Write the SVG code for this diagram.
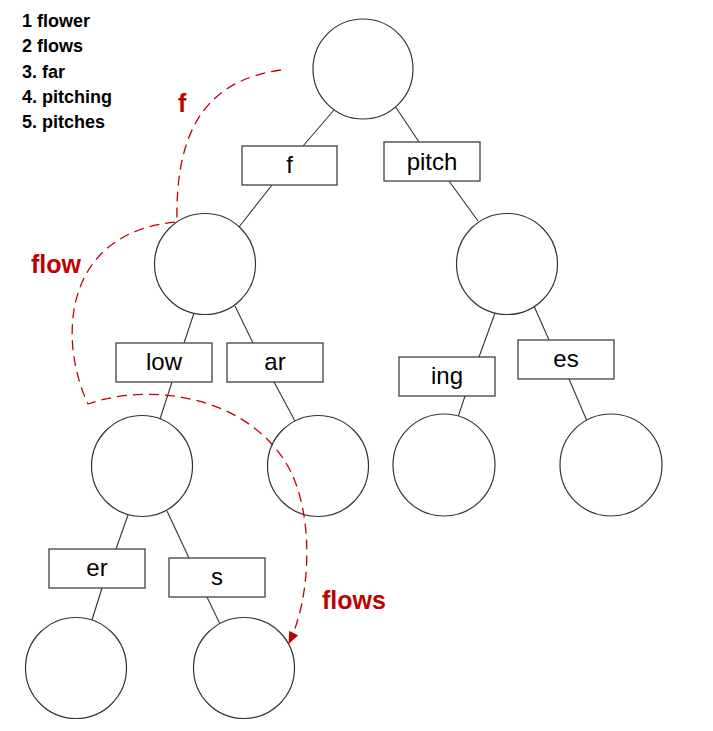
<svg xmlns="http://www.w3.org/2000/svg" width="713" height="731" viewBox="0 0 713 731">
<defs>
<style>
.n{fill:#fff;stroke:#333;stroke-width:1.2}
.b{fill:#fff;stroke:#404040;stroke-width:1.3}
.e{stroke:#333;stroke-width:1.1;fill:none}
.t{font-family:"Liberation Sans",Arial,sans-serif;font-size:24px;fill:#000;text-anchor:middle}
.lg{font-family:"Liberation Sans",Arial,sans-serif;font-size:18px;font-weight:bold;fill:#000}
.r{font-family:"Liberation Sans",Arial,sans-serif;font-size:25px;font-weight:bold;fill:#C00000}
.d{fill:none;stroke:#C00000;stroke-width:1.3;stroke-dasharray:10 6}
</style>
<marker id="ah" viewBox="0 0 12 10" refX="11" refY="5" markerWidth="12" markerHeight="10" markerUnits="userSpaceOnUse" orient="auto">
<path d="M0,0 L12,5 L0,10 z" fill="#C00000"/>
</marker>
</defs>
<rect width="713" height="731" fill="#fff"/>
<g id="legend">
<text class="lg" x="22" y="27">1 flower</text>
<text class="lg" x="22" y="52">2 flows</text>
<text class="lg" x="22" y="78">3. far</text>
<text class="lg" x="22" y="103">4. pitching</text>
<text class="lg" x="22" y="128">5. pitches</text>
</g>
<g id="connectors">
<line class="e" x1="334" y1="110" x2="303" y2="146"/>
<line class="e" x1="395" y1="106" x2="419" y2="142"/>
<line class="e" x1="272" y1="185" x2="239" y2="227"/>
<line class="e" x1="449" y1="181" x2="478" y2="221"/>
<line class="e" x1="194" y1="313" x2="184" y2="343"/>
<line class="e" x1="235" y1="306" x2="253" y2="343"/>
<line class="e" x1="495" y1="313" x2="479" y2="357"/>
<line class="e" x1="534" y1="306" x2="549" y2="340"/>
<line class="e" x1="172" y1="382" x2="160" y2="419"/>
<line class="e" x1="274" y1="382" x2="295" y2="421"/>
<line class="e" x1="465" y1="396" x2="458" y2="417"/>
<line class="e" x1="569" y1="379" x2="587" y2="421"/>
<line class="e" x1="128" y1="515" x2="116" y2="549"/>
<line class="e" x1="167" y1="511" x2="189" y2="558"/>
<line class="e" x1="102" y1="588" x2="92" y2="620"/>
<line class="e" x1="207" y1="597" x2="220" y2="624"/>
</g>
<g id="root"><circle class="n" cx="363" cy="69" r="50"/></g>
<g id="box-f"><rect class="b" x="242" y="146" width="95" height="39"/><text class="t" x="289.5" y="173">f</text></g>
<g id="box-pitch"><rect class="b" x="384" y="142" width="96" height="39"/><text class="t" x="432" y="170">pitch</text></g>
<g id="node-f"><circle class="n" cx="205" cy="264" r="50.5"/></g>
<g id="node-pitch"><circle class="n" cx="507" cy="264" r="50.5"/></g>
<g id="box-low"><rect class="b" x="116" y="343" width="96" height="39"/><text class="t" x="164" y="370">low</text></g>
<g id="box-ar"><rect class="b" x="227" y="343" width="96" height="39"/><text class="t" x="275" y="370">ar</text></g>
<g id="box-ing"><rect class="b" x="399" y="357" width="96" height="39"/><text class="t" x="447" y="384">ing</text></g>
<g id="box-es"><rect class="b" x="518" y="340" width="96" height="39"/><text class="t" x="566" y="367">es</text></g>
<g id="node-flow"><circle class="n" cx="142" cy="466" r="50.5"/></g>
<g id="node-far"><circle class="n" cx="318" cy="466" r="50.5"/></g>
<g id="node-pitching"><circle class="n" cx="444" cy="465" r="51"/></g>
<g id="node-pitches"><circle class="n" cx="611" cy="465" r="51"/></g>
<g id="box-er"><rect class="b" x="49" y="549" width="96" height="39"/><text class="t" x="97" y="576">er</text></g>
<g id="box-s"><rect class="b" x="169" y="558" width="96" height="39"/><text class="t" x="217" y="585">s</text></g>
<g id="node-flower"><circle class="n" cx="76" cy="668" r="50.5"/></g>
<g id="node-flows"><circle class="n" cx="244" cy="668" r="50.5"/></g>
<g id="search-path">
<path class="d" d="M281,70 C210,80 175,125 177,222 C62,232 58,340 88,404 C150,382 250,395 290,470 C315,520 310,600 289,643" marker-end="url(#ah)"/>
<text class="r" x="178" y="112">f</text>
<text class="r" x="31" y="273">flow</text>
<text class="r" x="322" y="609">flows</text>
</g>
</svg>
